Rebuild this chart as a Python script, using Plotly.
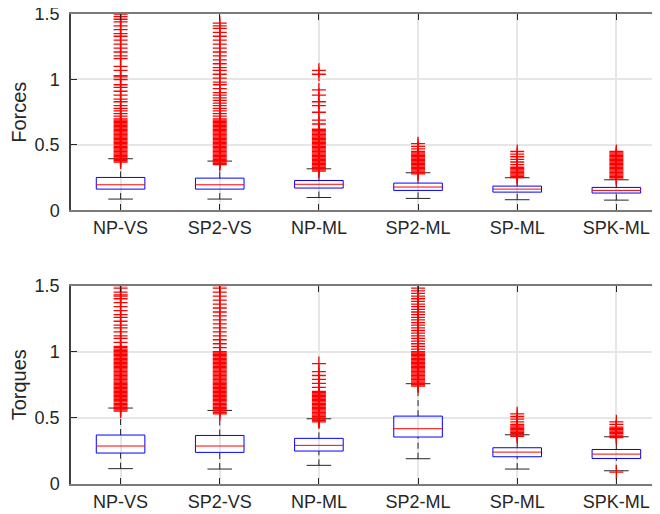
import plotly.graph_objects as go
from plotly.subplots import make_subplots

categories = ["NP-VS", "SP2-VS", "NP-ML", "SP2-ML", "SP-ML", "SPK-ML"]

# Forces box statistics
f_q1 = [0.163, 0.163, 0.171, 0.153, 0.140, 0.133]
f_med = [0.196, 0.196, 0.200, 0.179, 0.163, 0.153]
f_q3 = [0.252, 0.247, 0.229, 0.209, 0.186, 0.176]
f_lw = [0.087, 0.087, 0.099, 0.092, 0.082, 0.079]
f_uw = [0.395, 0.377, 0.318, 0.288, 0.250, 0.234]

# Torques box statistics
t_q1 = [0.234, 0.239, 0.249, 0.355, 0.206, 0.193]
t_med = [0.287, 0.287, 0.292, 0.418, 0.241, 0.226]
t_q3 = [0.370, 0.367, 0.345, 0.513, 0.274, 0.261]
t_lw = [0.116, 0.113, 0.141, 0.191, 0.113, 0.100]
t_uw = [0.574, 0.556, 0.493, 0.758, 0.372, 0.357]

# Outliers
f_out = [
    [0.37, 0.38, 0.39, 0.40, 0.41, 0.42, 0.43, 0.44, 0.45, 0.46, 0.47, 0.48, 0.49, 0.50,
     0.51, 0.52, 0.53, 0.54, 0.55, 0.56, 0.57, 0.58, 0.59, 0.60, 0.61, 0.62, 0.63, 0.64,
     0.65, 0.66, 0.67, 0.68, 0.69, 0.70, 0.72, 0.74, 0.76, 0.78, 0.80, 0.83, 0.85, 0.88,
     0.91, 0.94, 0.96, 1.00, 1.02, 1.03, 1.07, 1.10, 1.16, 1.18, 1.21, 1.24, 1.27, 1.30,
     1.33, 1.35, 1.38, 1.41, 1.44, 1.46, 1.48, 1.50],
    [0.35, 0.36, 0.37, 0.38, 0.39, 0.40, 0.41, 0.42, 0.43, 0.44, 0.45, 0.46, 0.47, 0.48,
     0.49, 0.50, 0.51, 0.52, 0.53, 0.54, 0.55, 0.56, 0.57, 0.58, 0.59, 0.60, 0.61, 0.62,
     0.63, 0.64, 0.65, 0.66, 0.67, 0.68, 0.69, 0.70, 0.72, 0.74, 0.76, 0.78, 0.80, 0.82,
     0.84, 0.86, 0.88, 0.90, 0.93, 0.96, 0.98, 1.01, 1.04, 1.07, 1.09, 1.12, 1.15, 1.18,
     1.21, 1.24, 1.27, 1.30, 1.33, 1.36, 1.39, 1.41, 1.43],
    [0.30, 0.31, 0.32, 0.33, 0.34, 0.35, 0.36, 0.37, 0.38, 0.39, 0.40, 0.41, 0.42, 0.43,
     0.44, 0.45, 0.46, 0.47, 0.48, 0.49, 0.50, 0.51, 0.52, 0.53, 0.54, 0.55, 0.56, 0.57,
     0.58, 0.59, 0.60, 0.61, 0.62, 0.66, 0.69, 0.75, 0.80, 0.83, 0.88, 0.92, 1.04, 1.07],
    [0.28, 0.29, 0.30, 0.31, 0.32, 0.33, 0.34, 0.35, 0.36, 0.37, 0.38, 0.39, 0.40, 0.41,
     0.42, 0.43, 0.44, 0.45, 0.47, 0.49, 0.51],
    [0.25, 0.26, 0.27, 0.28, 0.29, 0.30, 0.31, 0.32, 0.33, 0.35, 0.37, 0.39, 0.41, 0.43,
     0.45],
    [0.24, 0.25, 0.26, 0.27, 0.28, 0.29, 0.30, 0.31, 0.32, 0.33, 0.34, 0.35, 0.36, 0.37,
     0.38, 0.39, 0.40, 0.41, 0.42, 0.43, 0.44, 0.45],
]
t_out = [
    [0.55, 0.56, 0.57, 0.58, 0.59, 0.60, 0.61, 0.62, 0.63, 0.64, 0.65, 0.66, 0.67, 0.68,
     0.69, 0.70, 0.71, 0.72, 0.73, 0.74, 0.75, 0.76, 0.77, 0.78, 0.79, 0.80, 0.81, 0.82,
     0.83, 0.84, 0.85, 0.86, 0.87, 0.88, 0.89, 0.90, 0.91, 0.92, 0.93, 0.94, 0.95, 0.96,
     0.97, 0.98, 0.99, 1.00, 1.01, 1.02, 1.03, 1.04, 1.07, 1.10, 1.12, 1.15, 1.18, 1.20,
     1.23, 1.26, 1.28, 1.31, 1.34, 1.37, 1.40, 1.42, 1.43, 1.45, 1.48, 1.50],
    [0.53, 0.54, 0.55, 0.56, 0.57, 0.58, 0.59, 0.60, 0.61, 0.62, 0.63, 0.64, 0.65, 0.66,
     0.67, 0.68, 0.69, 0.70, 0.71, 0.72, 0.73, 0.74, 0.75, 0.76, 0.77, 0.78, 0.79, 0.80,
     0.81, 0.82, 0.83, 0.84, 0.85, 0.86, 0.87, 0.88, 0.89, 0.90, 0.91, 0.92, 0.93, 0.94,
     0.95, 0.96, 0.97, 0.98, 0.99, 1.00, 1.03, 1.06, 1.09, 1.12, 1.15, 1.18, 1.21, 1.24,
     1.27, 1.30, 1.33, 1.36, 1.39, 1.42, 1.45, 1.48, 1.50],
    [0.47, 0.48, 0.49, 0.50, 0.51, 0.52, 0.53, 0.54, 0.55, 0.56, 0.57, 0.58, 0.59, 0.60,
     0.61, 0.62, 0.63, 0.64, 0.65, 0.66, 0.67, 0.68, 0.69, 0.70, 0.73, 0.76, 0.79, 0.82,
     0.85, 0.91],
    [0.74, 0.75, 0.76, 0.77, 0.78, 0.79, 0.80, 0.81, 0.82, 0.83, 0.84, 0.85, 0.86, 0.87,
     0.88, 0.89, 0.90, 0.91, 0.92, 0.93, 0.94, 0.95, 0.96, 0.97, 0.98, 0.99, 1.00, 1.02,
     1.04, 1.06, 1.08, 1.10, 1.12, 1.14, 1.16, 1.18, 1.20, 1.22, 1.24, 1.26, 1.28, 1.30,
     1.32, 1.34, 1.36, 1.38, 1.40, 1.42, 1.44, 1.46, 1.48],
    [0.36, 0.37, 0.38, 0.39, 0.40, 0.41, 0.42, 0.43, 0.44, 0.45, 0.47, 0.49, 0.51, 0.53],
    [0.35, 0.36, 0.37, 0.38, 0.39, 0.40, 0.41, 0.42, 0.43, 0.45, 0.47, 0.09],
]

BOX_HW = 0.245
CAP_HW = 0.124
FONT = "Liberation Sans"
TXT = "#262626"

fig = make_subplots(rows=2, cols=1, vertical_spacing=0.16)


def add_group(row, q1, med, q3, lw, uw, outs):
    bx, by, mx, my, wx, wy, cx, cy, ox, oy = [], [], [], [], [], [], [], [], [], []
    for i in range(len(categories)):
        p = i + 1
        bx += [p - BOX_HW, p + BOX_HW, p + BOX_HW, p - BOX_HW, p - BOX_HW, None]
        by += [q1[i], q1[i], q3[i], q3[i], q1[i], None]
        mx += [p - BOX_HW, p + BOX_HW, None]
        my += [med[i], med[i], None]
        wx += [p, p, None, p, p, None]
        wy += [q3[i], uw[i], None, lw[i], q1[i], None]
        cx += [p - CAP_HW, p + CAP_HW, None, p - CAP_HW, p + CAP_HW, None]
        cy += [uw[i], uw[i], None, lw[i], lw[i], None]
        ox += [p] * len(outs[i])
        oy += outs[i]
    fig.add_trace(go.Scatter(x=wx, y=wy, mode="lines",
                             line=dict(color="#262626", width=1, dash="6px,4px"),
                             hoverinfo="skip"), row=row, col=1)
    fig.add_trace(go.Scatter(x=cx, y=cy, mode="lines",
                             line=dict(color="#262626", width=1), hoverinfo="skip"),
                  row=row, col=1)
    fig.add_trace(go.Scatter(x=bx, y=by, mode="lines",
                             line=dict(color="#0000ff", width=1), hoverinfo="skip"),
                  row=row, col=1)
    fig.add_trace(go.Scatter(x=mx, y=my, mode="lines",
                             line=dict(color="#ff0000", width=1), hoverinfo="skip"),
                  row=row, col=1)
    fig.add_trace(go.Scatter(x=ox, y=oy, mode="markers",
                             marker=dict(symbol="cross-thin", size=10,
                                         line=dict(color="#ff0000", width=1.3)),
                             hoverinfo="skip"), row=row, col=1)


add_group(1, f_q1, f_med, f_q3, f_lw, f_uw, f_out)
add_group(2, t_q1, t_med, t_q3, t_lw, t_uw, t_out)

xcommon = dict(range=[0.5, 6.44], tickvals=list(range(1, 7)), ticktext=categories,
               ticks="inside", ticklen=6, tickcolor="#262626", showline=True,
               linecolor="#7a7a7a", linewidth=2, mirror="ticks", showgrid=True,
               gridcolor="#e6e6e6", gridwidth=1.5, zeroline=False, automargin=False,
               tickfont=dict(family=FONT, size=18, color=TXT))
ycommon = dict(range=[0, 1.5], tickvals=[0, 0.5, 1, 1.5], ticktext=["0", "0.5", "1", "1.5"],
               ticks="inside", ticklen=6, tickcolor="#262626", showline=True,
               linecolor="#404040", linewidth=1.5, showgrid=True,
               gridcolor="#e6e6e6", gridwidth=1.5, zeroline=False, automargin=False,
               ticklabeloverflow="allow",
               tickfont=dict(family=FONT, size=18, color=TXT), ticklabelstandoff=6)

fig.update_xaxes(**xcommon)
fig.update_yaxes(**ycommon)
fig.update_layout(
    xaxis=dict(domain=[0, 1]), xaxis2=dict(domain=[0, 1]),
    yaxis=dict(domain=[0.582, 1.0],
               title=dict(text="Forces", font=dict(family=FONT, size=20, color=TXT), standoff=6)),
    yaxis2=dict(domain=[0.0, 0.4223],
                title=dict(text="Torques", font=dict(family=FONT, size=20, color=TXT), standoff=6)),
    width=652, height=506,
    margin=dict(l=63, r=0, t=6, b=30),
    plot_bgcolor="white", paper_bgcolor="white",
    showlegend=False,
)

fig.write_html("out.html")
